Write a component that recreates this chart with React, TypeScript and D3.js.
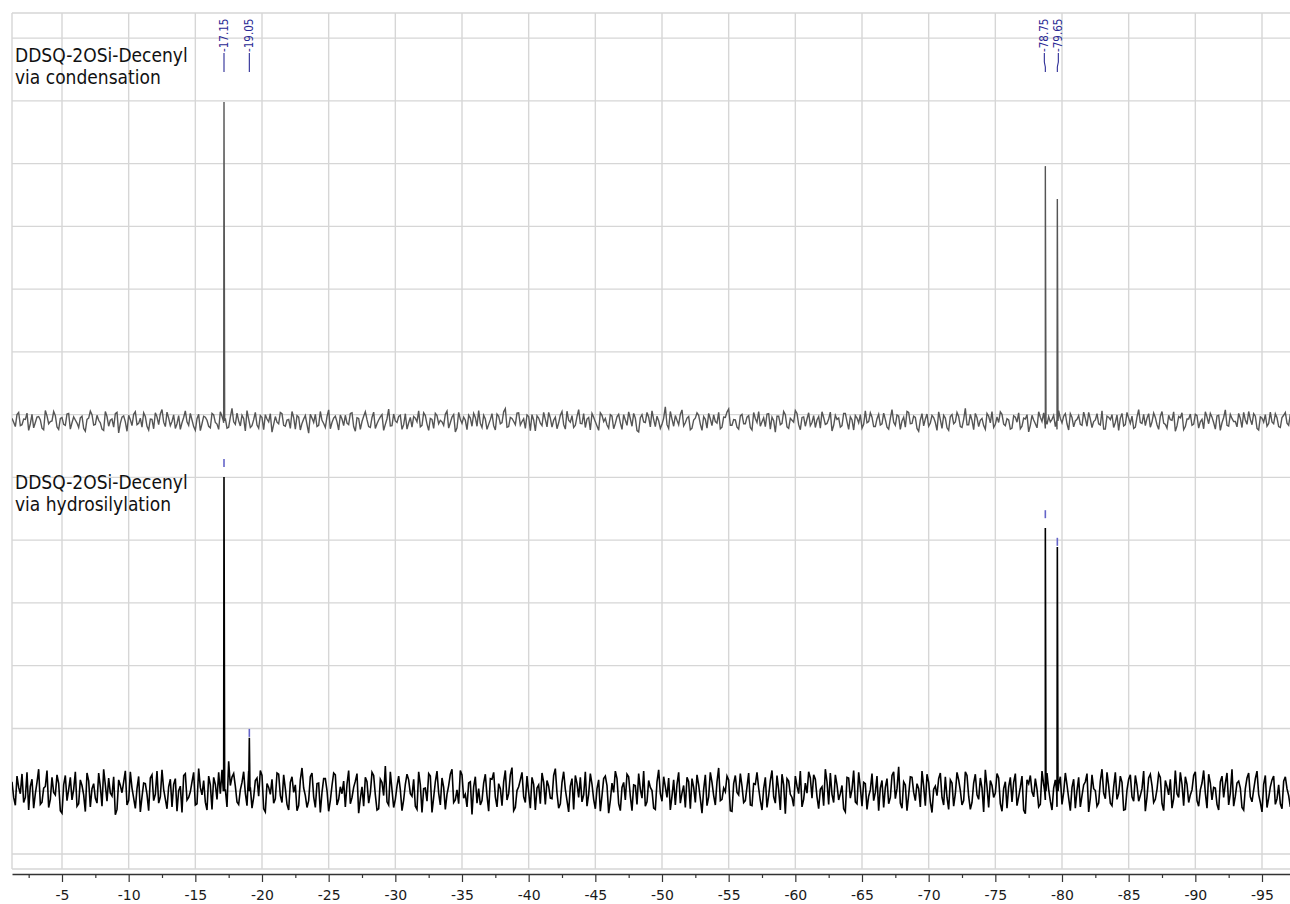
import React, { useRef, useEffect } from 'react';
import * as d3 from 'd3';

// chemical shift of the first noise sample and spacing between samples (ppm)
const PPM_START = -1.25;
const PPM_STEP = -0.25;

// baseline noise (intensity units, top trace)
const noiseTop = [
  8, -18, 27, -12, 5, -30, 21, -5, 14, -23, 33, -9, 0, 17, -27, 11, -14, 24, -6, 3,
  -21, 15, -33, 9, 20, -11, 2, -26, 30, -17, 6, 23, -38, 12, -3, 18, -15, 29, -8, -20,
  14, -29, 5, 26, -12, 36, -18, 9, -2, -24, 17, -6, 32, -14, 3, -30, 21, -9, 12, -17,
  24, -5, -27, 15, 8, -20, 40, -11, 0, 18, -32, 6, -15, 27, -23, 11, 20, -3, -36, 14,
  -9, 23, -17, 5, 30, -26, 12, -8, 17, -39, 9, 21, -14, 2, -21, 35, -5, 15, -29, 6,
  18, -12, 26, -33, 8, -2, 29, -18, 11, -24, 3, 20, -11, 38, -15, 0, 14, -27, 23, -6,
  -20, 9, 32, -14, 17, -30, 5, 24, -9, -3, 21, -23, 12, -35, 27, -8, 2, 18, -17, 11,
  33, -21, 6, -11, 23, -29, 15, -5, 39, -18, 8, -12, 26, -2, -24, 14, 20, -32, 9, -15,
  5, 27, -20, 12, -6, 30, -26, 2, 17, -14, 36, -9, -21, 11, 24, -3, -30, 18, 8, -23,
  15, -8, 21, -27, 3, 29, -17, 9, -35, 20, -5, 12, 32, -18, 0, -11, 45, -24, 6, 17,
  -12, 35, -6, 14, -23, 9, 18, -30, 5, 24, -15, -2, 27, -20, 11, 38, -14, 3, -26, 21,
  -9, 17, -29, 8, 30, -3, -18, 23, 12, -36, 15, -8, 20, -24, 2, 33, -12, 11, -17, 26,
  -5, -21, 14, 29, -11, 6, -32, 18, 9, -15, 24, -27, 3, 17, -6, -23, 32, -2, 12, -18,
  21, -9, 5, -26, 36, -14, 15, 0, -20, 27, -8, 11, -33, 23, 6, -17, 18, -5, 29, -24,
  9, -30, 20, -3, 14, -21, 40, -12, 2, 24, -18, 8, -27, 15, 30, -11, -5, 21, -15, 3,
  -23, 12, 26, -17, 6, -35, 18, -9, 29, -2, -24, 14, 5, -18, 33, -6, 23, -29, 11, 0,
  17, -14, 8, 27, -21, 3, -9, 32, -26, 12, 20, -5, -30, 24, -12, 9, 15, -20, 36, -8,
  -15, 23, -3, 11, -27, 30, -11, 18, 2, -33, 14, 26, -18, 6, -14, 21, -23, 5, 29, -9,
  12, -26, 18, -6, 35, -17, 8, -2, 24, -21, 3, 30, -12, 15, -29, 9, 20, -8, -3, 23,
  -18, 11, 27, -14, 6,
];

// samples half a step after each of the above (top trace)
const noiseTopMid = [
  -4, 20, -15, 6, 25, -9, -22, 12, 3, -28, 16, -2, 30, -19, 8, -11, 22, -26, 13, -7,
  10, -24, 5, 31, -13, 18, -6, -30, 14, 2, -20, 27, -8, 16, -33, 4, 21, -12, 9, 26,
  -17, 6, -25, 13, 22, -4, 28, -15, 19, -9, -27, 11, -3, 24, -18, 7, -31, 15, 2, -22,
  19, -10, 29, -6, -23, 12, -3, 25, -16, 8, 33, -21, 4, -13, 17, -28, 6, 23, -11, -4,
  27, -14, 3, -24, 11, 17, -29, 6, -12, 21, -5, -18, 30, -8, 14, -25, 9, -3, 19, -15,
  -7, 24, -18, 10, -27, 15, 4, -21, 28, -9, 13, -30, 7, -16, 22, -5, 18, -12, -26, 11,
  14, -3, -19, 26, -10, 8, -24, 17, 2, -14, 31, -6, 20, -22, 5, 12, -28, 9, 24, -17,
  -8, 18, -27, 4, -15, 22, -9, 29, -20, 11, -2, 25, -13, 7, 19, -31, 3, 16, -7, 27,
  -19, 9, 2, -25, 18, -12, 31, -4, -21, 14, -8, 23, 6, -29, 12, -16, 26, -2, -13, 20,
  -25, 13, -6, 20, -14, 7, 24, -31, 10, -3, 27, -19, 5, 15, -24, 9, -12, 30, -17, 2,
  21, -16, 9, -28, 3, 26, -10, 14, -23, 6, 19, -7, -25, 12, 28, -14, 4, -20, 16, -9,
  12, -21, 27, -5, -17, 10, 22, -26, 1, 15, -12, 30, -19, 8, -4, 24, -28, 13, 6, -15,
  17, 3, -23, 11, -8, 28, -14, 5, -20, 24, -2, 13, -29, 9, 20, -11, -6, 26, -18, 7,
  -13, 25, -20, 8, -4, 19, -27, 12, 30, -9, 15, -24, 3, -16, 22, -7, 11, -30, 4, 18,
  -22, 14, -9, 27, -18, 5, -12, 21, -28, 10, 2, -15, 24, -6, -21, 13, 29, -10, 7, -26,
  16, -4, -25, 9, 20, -14, 3, -22, 12, 26, -11, -3, 18, -27, 8, 15, -9, 23, -19, 5,
  -11, 28, -17, 6, -2, 23, -13, -26, 15, 4, -21, 19, 9, -16, 27, -8, -24, 12, -5, 21,
  9, -20, 25, -12, 14, -7, -23, 4, 29, -16, 10, -28, 6, 22, -10, 17, -3, -25, 13, 24,
  -6, 16, -30, 11, -14, 21, -2, -19, 8, 27, -11, 5, 23, -24, 13, -4, -17, 28, -9, 10,
  -21, 18, -7, 22, -12,
];

// baseline noise, bottom trace
const noiseBottom = [
  30, -45, 12, 55, -20, -60, 38, -8, 70, -35, 15, -52, 44, -12, 25, -70, 50, 5, -28, 62,
  -40, 18, -65, 33, 8, -22, 58, -48, 20, 42, -15, -75, 36, -5, 65, -30, 10, -55, 47, -18,
  24, -62, 52, -10, -38, 68, -25, 14, -50, 40, 2, -68, 56, -20, 30, -44, 72, -12, -35, 48,
  -58, 22, 60, 68, 6, 95, 45, 16, -42, 28, -6, 64, -54, 34, -16, 50, -66, 12, 38, -24,
  54, -36, 8, -60, 46, 20, -46, 74, -14, -30, 58, -52, 26, -4, 40, -64, 18, 52, -26, -8,
  -50, 66, -20, 32, -70, 14, 44, -38, 60, -12, -56, 28, 80, -44, 4, -26, 48, -62, 22, 36,
  -16, -48, 62, -68, 10, 56, -68, 30, -6, 42, -58, 18, 70, -28, -40, 52, -10, 26, -74, 46,
  8, -30, 54, -64, 38, -18, 24, -46, 66, -8, 75, -52, 14, 60, -36, -4, 44, -60, 20, 58,
  -42, 16, -24, 72, -54, 28, 6, -66, 40, 50, -20, -34, 62, -10, 22, -56, 36, -14, 48, -70,
  26, 64, -40, 12, -28, 46, -62, 18, 56, -22, -48, 34, 2, -58, 68, -32, 14, 42, -16, -44,
  60, -6, -52, 30, 40, -36, 20, -70, 52, -18, 28, -44, 74, -26, -2, 36, -64, 50, -12, 16,
  -30, 58, -46, 22, 10, -60, 44, -14, 66, -38, 4, 54, -72, 32, -20, 48, -8, -50, 26, 62,
  -22, 38, -56, 14, 70, -42, -10, 52, -28, 18, -66, 42, 6, -34, 60, -48, 24, -16, 56, -4,
  -62, 34, 12, -40, 50, -24, 78, -54, 20, -12, 44, -30, 8, 64, -46, 28, -68, 16, 40, -20,
  46, -58, 26, -8, 36, -44, 62, -16, -36, 54, -26, 10, 68, -52, 18, -6, 42, -64, 30, 14,
  -34, 56, -18, 48, -72, 24, -2, 40, -50, 64, -28, 6, -60, 36, 20, -42, 58, -22, 12, -54,
  44, -14, 30, -66, 52, 2, -38, 70, -24, 16, -46, 60, -8, 28, -58, 38, -18, 50, -32, 8,
  -64, 42, 18, -26, 56, -40, 34, -12, -54, 66, -20, 22, 46, -36, 4, 62, -48, 26, -6, 54,
  -28, 10, -60, 48, 24, -44, 70, -16, 32, -52, 8, 58, -34, 40, -10, -66, 50, -22, 36, -42,
  20, -56, 46, -14, 32,
];

// samples half a step after each of the above (bottom trace)
const noiseBottomMid = [
  -20, 48, -8, -36, 60, 15, -54, 28, -42, 10, 66, -26, -4, 52, -62, 20, -30, 44, 6, -48,
  36, -12, 58, -50, 24, -38, 14, 70, -32, -6, 46, -58, 18, 30, -44, 62, -22, 8, -66, 26,
  -10, 42, -30, 64, -18, 6, -56, 38, 22, -64, 16, 50, -28, -2, 60, -40, 12, 34, -60, 20,
  44, -26, -8, 32, -50, 18, 56, -34, 4, 62, -46, 12, -20, 42, 66, -56, 24, -10, -38, 58,
  -14, 52, -42, 28, -4, -62, 36, 10, -52, 46, -18, 24, -68, 40, 2, -30, 58, -44, 14, 32,
  22, -40, 12, 56, -24, -48, 30, -6, 50, -60, 38, -14, -34, 62, -52, 16, 4, -28, 54, -8,
  38, -58, 20, 8, -32, 48, -20, 64, -44, 12, -10, 54, -36, 4, 66, -22, -50, 30, 14, -38,
  -44, 26, -14, 40, 60, -50, 8, 30, -28, 52, -62, 2, 36, -18, 48, -54, 22, 10, -40, 28,
  34, -22, 50, -6, -40, 62, -30, 16, -58, 24, 44, -12, -48, 56, -26, 8, -64, 40, 18, -30,
  -4, 40, -62, 28, 54, -16, 20, -42, 6, 64, -34, 12, -54, 30, -8, 46, -20, -60, 36, 22,
  -38, 18, 44, -56, 12, 52, -24, 6, -46, 60, -14, 30, -30, 10, 48, -62, 24, -4, 56, -36,
  14, -44, 24, 60, -30, 8, -52, 34, -18, 50, -60, 20, 40, -10, -48, 16, 64, -26, -6, 42,
  52, -18, 6, -46, 30, 58, -36, 20, -8, -56, 44, -22, 66, -40, 12, 28, -58, 4, -30, 48,
  10, -52, 40, -20, 62, 8, -38, 30, -62, 46, -4, 24, -50, 16, 54, -34, 6, -14, 58, -44,
  -20, 36, -48, 60, 2, -30, 50, -58, 26, -12, 42, -66, 14, 34, -20, 56, -40, 8, -54, 44,
  28, -46, 12, -60, 36, 50, -18, 6, -42, 22, 58, -32, 10, -50, 46, -4, 20, -62, 38, 2,
  -50, 20, 56, -22, 8, -48, 32, -6, 60, -38, 14, -26, 48, -60, 4, 52, -32, 18, -14, 64,
  -18, 54, -36, 6, 44, -62, 14, 38, -24, -8, 60, -46, 22, -12, 50, -30, 4, 66, -54, 26,
  12, -42, 30, -20, 58, -6, -48, 26, 10, -60, 42, -18, 4, 64, -36, 22, -52, 14, 48, -24,
  -40, 32, 8, -50, 26,
];

// vertical stacking of the top trace
const TOP_OFFSET = 1180;

// peaks (ppm, height above baseline)
const peakPpmTop = [-17.15, -78.75, -79.65];
const peakHeightTop = [1016, 812, 707];
const peakPpmBottom = [-17.15, -19.05, -78.75, -79.65];
const peakHeightBottom = [1001, 170, 839, 778];
const markerLevelBottom = [1033, 173, 870, 782];

// peak-pick labels along the top
const labelPpm = [-17.15, -19.05, -78.75, -79.65];
const labelText = ['-17.15', '-19.05', '-78.75', '-79.65'];

const sampleNames = ['DDSQ-2OSi-Decenyl', 'DDSQ-2OSi-Decenyl'];
const sampleRoutes = ['via condensation', 'via hydrosilylation'];

const majorTicks = [-5, -10, -15, -20, -25, -30, -35, -40, -45, -50, -55, -60, -65, -70, -75, -80, -85, -90, -95];
const gridLevels = [-200, 0, 200, 400, 600, 800, 1000, 1200, 1400, 1600, 1800, 2000, 2200, 2400];

const W = 1290;
const H = 904;
const FONT = "'DejaVu Sans Condensed', 'DejaVu Sans', sans-serif";
const AXIS_FONT = "'DejaVu Sans', sans-serif";

const buildSeries = (noise, noiseMid, peakPpm, peakHeight, offset) => {
  const pts = noise.map((v, i) => ({ ppm: PPM_START + PPM_STEP * i, v: v + offset }));
  noiseMid.forEach((v, i) => pts.push({ ppm: PPM_START + PPM_STEP * (i + 0.5), v: v + offset }));
  peakPpm.forEach((p, k) => {
    pts.push({ ppm: p + 0.05, v: offset });
    pts.push({ ppm: p, v: offset + peakHeight[k] });
    pts.push({ ppm: p - 0.05, v: offset });
  });
  pts.sort((a, b) => b.ppm - a.ppm);
  return pts;
};

const App = () => {
  const svgRef = useRef<SVGSVGElement>(null);

  useEffect(() => {
    if (!svgRef.current) return;
    const svg = d3.select(svgRef.current);
    svg.selectAll('*').remove();

    const left = 12, right = W, top = 13, bottom = 869, axisY = 874;

    const x = d3.scaleLinear().domain([-1.25, -97.1]).range([left, right]);
    const y = d3.scaleLinear().domain([-248, 2480]).range([bottom, top]);

    svg.append('rect').attr('width', W).attr('height', H).attr('fill', '#fff');

    // grid
    const grid = svg.append('g').attr('stroke', '#d6d6d6').attr('stroke-width', 1.4);
    grid.selectAll('line.v')
      .data(majorTicks)
      .enter()
      .append('line')
      .attr('x1', d => x(d)).attr('x2', d => x(d))
      .attr('y1', top).attr('y2', bottom);
    grid.selectAll('line.h')
      .data(gridLevels)
      .enter()
      .append('line')
      .attr('x1', left).attr('x2', right)
      .attr('y1', d => y(d)).attr('y2', d => y(d));
    // frame
    grid.append('line').attr('x1', left).attr('x2', right).attr('y1', top).attr('y2', top);
    grid.append('line').attr('x1', left).attr('x2', right).attr('y1', bottom).attr('y2', bottom);
    grid.append('line').attr('x1', left).attr('x2', left).attr('y1', top).attr('y2', bottom);

    svg.append('clipPath').attr('id', 'plot-clip')
      .append('rect').attr('x', left).attr('y', top).attr('width', right - left).attr('height', bottom - top);

    const line = d3.line<{ ppm: number; v: number }>()
      .x(d => x(d.ppm))
      .y(d => y(d.v));

    const plot = svg.append('g').attr('clip-path', 'url(#plot-clip)');

    plot.append('path')
      .datum(buildSeries(noiseTop, noiseTopMid, peakPpmTop, peakHeightTop, TOP_OFFSET))
      .attr('fill', 'none')
      .attr('stroke', '#555')
      .attr('stroke-width', 1.4)
      .attr('d', line);

    plot.append('path')
      .datum(buildSeries(noiseBottom, noiseBottomMid, peakPpmBottom, peakHeightBottom, 0))
      .attr('fill', 'none')
      .attr('stroke', '#000')
      .attr('stroke-width', 1.6)
      .attr('d', line);

    // peak markers on bottom trace
    plot.selectAll('line.marker')
      .data(peakPpmBottom)
      .enter()
      .append('line')
      .attr('x1', d => x(d)).attr('x2', d => x(d))
      .attr('y1', (d, i) => y(markerLevelBottom[i]))
      .attr('y2', (d, i) => y(markerLevelBottom[i]) - 8)
      .attr('stroke', '#6464c8')
      .attr('stroke-width', 1.6);

    // peak labels: spread labels that are too close
    const peakX = labelPpm.map(p => x(p));
    const labelX = peakX.slice();
    for (let i = 1; i < labelX.length; i++) {
      const gap = labelX[i] - labelX[i - 1];
      if (gap < 14) {
        const shift = (14 - gap) / 2;
        labelX[i - 1] -= shift;
        labelX[i] += shift;
      }
    }
    const labels = svg.append('g');
    labelText.forEach((t, i) => {
      labels.append('path')
        .attr('d', `M${peakX[i]},72 L${peakX[i]},67 L${labelX[i]},62 L${labelX[i]},53`)
        .attr('fill', 'none')
        .attr('stroke', '#2b2b95')
        .attr('stroke-width', 1.1);
      labels.append('text')
        .attr('transform', `translate(${labelX[i]},52) rotate(-90)`)
        .attr('dy', '0.36em')
        .attr('font-family', FONT)
        .attr('font-size', 11.5)
        .attr('fill', '#2b2b95')
        .text(t);
    });

    // sample names
    const nameY = [62, 489];
    sampleNames.forEach((n, i) => {
      const t = svg.append('text')
        .attr('x', 15)
        .attr('y', nameY[i])
        .attr('font-family', FONT)
        .attr('font-size', 19)
        .attr('fill', '#111');
      t.append('tspan').attr('x', 15).text(n);
      t.append('tspan').attr('x', 15).attr('dy', 21.5).text(sampleRoutes[i]);
    });

    // axis
    const axis = svg.append('g').attr('transform', `translate(0,${axisY})`);
    axis.call(
      d3.axisBottom(x)
        .tickValues(majorTicks)
        .tickSize(8)
        .tickSizeOuter(0)
        .tickFormat(d => `${d}`)
    );
    axis.select('.domain').attr('stroke', '#333').attr('stroke-width', 1.4);
    axis.selectAll('.tick line').attr('stroke', '#333').attr('stroke-width', 1.2);
    axis.selectAll('.tick text')
      .attr('y', 16)
      .attr('font-family', AXIS_FONT)
      .attr('font-size', 14)
      .attr('fill', '#1a1a1a');

    const minor = svg.append('g').attr('transform', `translate(0,${axisY})`);
    minor.call(
      d3.axisBottom(x)
        .tickValues(majorTicks.map(d => d + 2.5).concat([-97.5]).filter(d => d <= -1.25 && d >= -97.1))
        .tickSize(4)
        .tickSizeOuter(0)
        .tickFormat(() => '')
    );
    minor.select('.domain').remove();
    minor.selectAll('.tick line').attr('stroke', '#333').attr('stroke-width', 1.2);
  }, []);

  return (
    <svg
      ref={svgRef}
      width={W}
      height={H}
      style={{ position: 'absolute', left: 0, top: 0, display: 'block' }}
    />
  );
};

export default App;
